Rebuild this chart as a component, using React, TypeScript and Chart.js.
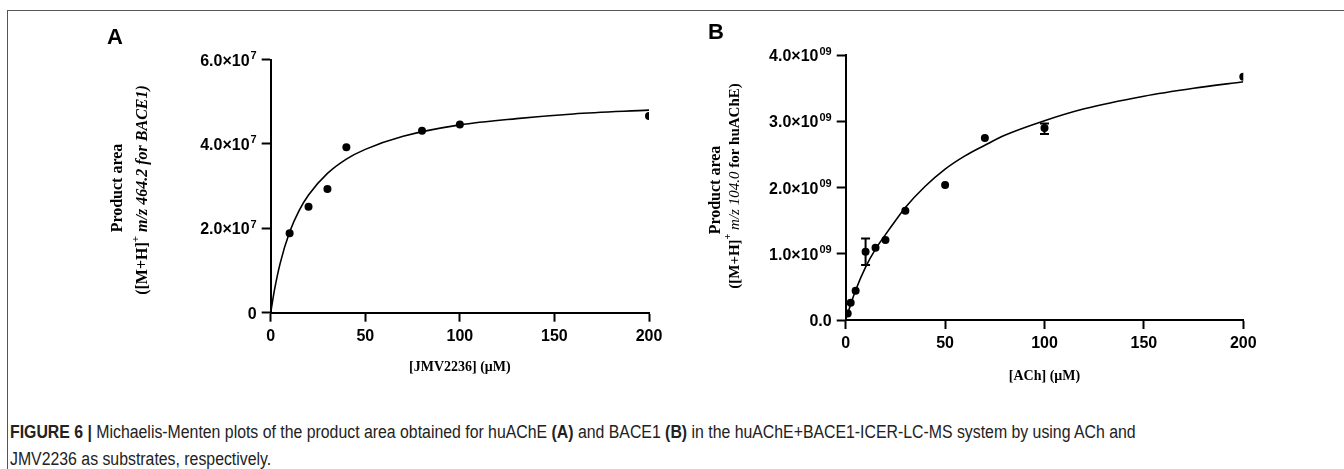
import React, { useEffect, useRef } from "react";
import { Chart, registerables } from "chart.js";

Chart.register(...registerables);

// ---------- Panel A : BACE1 / JMV2236 ----------
const jmvConc = [10, 20, 30, 40, 80, 100, 200];
const jmvArea = [1.88e7, 2.51e7, 2.93e7, 3.92e7, 4.31e7, 4.46e7, 4.66e7];
const fitAX = [0, 2, 5, 10, 15, 20, 30, 40, 50, 70, 100, 130, 160, 200];
const fitAY = [0, 0.54e7, 1.17e7, 1.91e7, 2.42e7, 2.79e7, 3.3e7, 3.64e7, 3.87e7, 4.18e7, 4.45e7, 4.6e7, 4.71e7, 4.8e7];
const yTicksA = [0, 2e7, 4e7, 6e7];
const yTickBaseA = ["0", "2.0×10", "4.0×10", "6.0×10"];
const yTickExpA = ["", "7", "7", "7"];

// ---------- Panel B : huAChE / ACh ----------
const achConc = [1, 2.5, 5, 10, 15, 20, 30, 50, 70, 100, 200];
const achArea = [0.1e9, 0.26e9, 0.44e9, 1.03e9, 1.09e9, 1.21e9, 1.65e9, 2.04e9, 2.75e9, 2.9e9, 3.675e9];
const achErrLow = [null, null, null, 0.83e9, null, null, null, null, null, 2.81e9, null];
const achErrHigh = [null, null, null, 1.23e9, null, null, null, null, null, 2.97e9, null];
const fitBX = [0, 5, 10, 15, 20, 25, 30, 40, 50, 60, 70, 80, 100, 120, 150, 175, 200];
const fitBY = [
  0.01e9, 0.45e9, 0.8e9, 1.07e9, 1.29e9, 1.5e9, 1.7e9, 2.02e9, 2.28e9, 2.48e9, 2.64e9, 2.79e9, 3.01e9, 3.19e9,
  3.38e9, 3.5e9, 3.6e9,
];
const yTicksB = [0, 1e9, 2e9, 3e9, 4e9];
const yTickBaseB = ["0.0", "1.0×10", "2.0×10", "3.0×10", "4.0×10"];
const yTickExpB = ["", "09", "09", "09", "09"];

const xTicks = [0, 50, 100, 150, 200];

const SANS = '"Liberation Sans", Arial, Helvetica, sans-serif';
const SERIF = '"Liberation Serif", "Times New Roman", Times, serif';

type Seg = { t: string; font: string; sup?: boolean };

const overlayPlugin = {
  id: "overlay",
  afterDatasetsDraw(chart: any, _args: any, opts: any) {
    const { ctx } = chart;
    const xs = chart.scales.x;
    const ys = chart.scales.y;
    if (opts.err) {
      ctx.save();
      ctx.strokeStyle = "#000";
      ctx.lineWidth = 2;
      opts.err.xs.forEach((xv: number, i: number) => {
        const lo = opts.err.lo[i];
        const hi = opts.err.hi[i];
        if (lo == null || hi == null) return;
        const px = xs.getPixelForValue(xv);
        const pl = ys.getPixelForValue(lo);
        const ph = ys.getPixelForValue(hi);
        ctx.beginPath();
        ctx.moveTo(px, pl);
        ctx.lineTo(px, ph);
        ctx.moveTo(px - 4.5, pl);
        ctx.lineTo(px + 4.5, pl);
        ctx.moveTo(px - 4.5, ph);
        ctx.lineTo(px + 4.5, ph);
        ctx.stroke();
      });
      ctx.restore();
    }
  },
  afterDraw(chart: any, _args: any, opts: any) {
    const { ctx, chartArea } = chart;
    const ys = chart.scales.y;
    ctx.save();
    ctx.fillStyle = "#000";
    // y tick labels with superscript exponent
    if (opts.yLabels) {
      const right = chartArea.left - 9 - 5;
      ctx.textBaseline = "alphabetic";
      ctx.textAlign = "left";
      opts.yLabels.values.forEach((v: number, i: number) => {
        const py = ys.getPixelForValue(v);
        const base = opts.yLabels.base[i];
        const exp = opts.yLabels.exp[i];
        ctx.font = `bold 11px ${SANS}`;
        const we = exp ? ctx.measureText(exp).width + 1 : 0;
        ctx.font = `bold 16px ${SANS}`;
        const wb = ctx.measureText(base).width;
        const baseline = py + 6;
        ctx.fillText(base, right - we - wb, baseline);
        if (exp) {
          ctx.font = `bold 11px ${SANS}`;
          ctx.fillText(exp, right - we + 1, baseline - 6.5);
        }
      });
    }
    // panel letter
    if (opts.letter) {
      ctx.font = `bold 22px ${SANS}`;
      ctx.textAlign = "center";
      ctx.textBaseline = "middle";
      ctx.fillText(opts.letter.text, opts.letter.x, opts.letter.y);
    }
    // x title
    if (opts.xTitle) {
      ctx.font = opts.xTitle.font;
      ctx.textAlign = "center";
      ctx.textBaseline = "middle";
      ctx.fillText(opts.xTitle.text, (chartArea.left + chartArea.right) / 2, opts.xTitle.y);
    }
    // rotated y titles
    (opts.yLines || []).forEach((line: any) => {
      ctx.save();
      ctx.translate(line.cx, line.cy);
      ctx.rotate(-Math.PI / 2);
      ctx.textAlign = "left";
      ctx.textBaseline = "middle";
      let total = 0;
      const widths = line.segs.map((s: Seg) => {
        ctx.font = s.font;
        const w = ctx.measureText(s.t).width;
        total += w;
        return w;
      });
      let x = -total / 2;
      line.segs.forEach((s: Seg, i: number) => {
        ctx.font = s.font;
        ctx.fillText(s.t, x, s.sup ? -7 : 0);
        x += widths[i];
      });
      ctx.restore();
    });
    ctx.restore();
  },
};

function makeConfig(p: any) {
  const tickFont = { family: SANS, size: 16, weight: "bold" as const };
  return {
    type: "scatter" as const,
    data: {
      datasets: [
        {
          data: p.fitX.map((x: number, i: number) => ({ x, y: p.fitY[i] })),
          showLine: true,
          borderColor: "#000",
          borderWidth: 1.6,
          pointRadius: 0,
          cubicInterpolationMode: "monotone" as const,
          fill: false,
          order: 2,
        },
        {
          data: p.xs.map((x: number, i: number) => ({ x, y: p.ys[i] })),
          showLine: false,
          pointRadius: 4,
          pointBackgroundColor: "#000",
          pointBorderColor: "#000",
          pointBorderWidth: 0,
          order: 1,
        },
      ],
    },
    options: {
      animation: false as const,
      responsive: false,
      events: [],
      layout: { padding: { top: p.padTop, right: p.padRight, left: 0, bottom: 0 } },
      plugins: {
        legend: { display: false },
        tooltip: { enabled: false },
        overlay: p.overlay,
      },
      scales: {
        x: {
          type: "linear" as const,
          min: 0,
          max: 200,
          afterBuildTicks: (s: any) => {
            s.ticks = xTicks.map((v) => ({ value: v }));
          },
          afterFit: (s: any) => {
            s.height = p.xHeight;
          },
          grid: {
            display: true,
            drawOnChartArea: false,
            drawTicks: true,
            tickLength: 9,
            tickWidth: 2,
            tickColor: "#000",
          },
          border: { display: true, color: "#000", width: 2 },
          ticks: {
            font: tickFont,
            color: "#000",
            padding: 5,
            maxRotation: 0,
            autoSkip: false,
            callback: (v: any) => String(v),
          },
        },
        y: {
          type: "linear" as const,
          min: 0,
          max: p.yMax,
          afterBuildTicks: (s: any) => {
            s.ticks = p.overlay.yLabels.values.map((v: number) => ({ value: v }));
          },
          afterFit: (s: any) => {
            s.width = p.yWidth;
          },
          grid: {
            display: true,
            drawOnChartArea: false,
            drawTicks: true,
            tickLength: 9,
            tickWidth: 2,
            tickColor: "#000",
          },
          border: { display: true, color: "#000", width: 2 },
          ticks: { display: false },
        },
      },
    },
    plugins: [overlayPlugin],
  };
}

function Panel(props: { cfg: any; left: number; width: number; height: number }) {
  const ref = useRef<HTMLCanvasElement | null>(null);
  useEffect(() => {
    if (!ref.current) return;
    const chart = new Chart(ref.current, props.cfg);
    return () => chart.destroy();
  }, []);
  return (
    <canvas
      ref={ref}
      width={props.width}
      height={props.height}
      style={{ position: "absolute", left: props.left, top: 0, width: props.width, height: props.height }}
    />
  );
}

const cfgA = makeConfig({
  fitX: fitAX,
  fitY: fitAY,
  xs: jmvConc,
  ys: jmvArea,
  yMax: 6e7,
  padTop: 59.5,
  padRight: 31,
  yWidth: 270.7,
  xHeight: 87.3,
  overlay: {
    yLabels: { values: yTicksA, base: yTickBaseA, exp: yTickExpA },
    letter: { text: "A", x: 115, y: 38 },
    xTitle: { text: "[JMV2236] (μM)", y: 367, font: `bold 14px ${SERIF}` },
    yLines: [
      { cx: 118, cy: 188, segs: [{ t: "Product area", font: `bold 16px ${SERIF}` }] },
      {
        cx: 143,
        cy: 190,
        segs: [
          { t: "([M+H]", font: `bold 16px ${SERIF}` },
          { t: "+", font: `bold 11px ${SERIF}`, sup: true },
          { t: " m/z 464.2 for BACE1)", font: `italic bold 16px ${SERIF}` },
        ],
      },
    ],
  },
});

const cfgB = makeConfig({
  fitX: fitBX,
  fitY: fitBY,
  xs: achConc,
  ys: achArea,
  yMax: 4e9,
  padTop: 55.2,
  padRight: 100.7,
  yWidth: 165.7,
  xHeight: 80,
  overlay: {
    yLabels: { values: yTicksB, base: yTickBaseB, exp: yTickExpB },
    letter: { text: "B", x: 36, y: 33 },
    xTitle: { text: "[ACh] (μM)", y: 376, font: `bold 14px ${SERIF}` },
    err: { xs: achConc, lo: achErrLow, hi: achErrHigh },
    yLines: [
      { cx: 36, cy: 190, segs: [{ t: "Product area", font: `bold 16px ${SERIF}` }] },
      {
        cx: 55,
        cy: 186,
        segs: [
          { t: "([M+H]", font: `bold 15px ${SERIF}` },
          { t: "+", font: `bold 10px ${SERIF}`, sup: true },
          { t: " m/z 104.0", font: `italic 15px ${SERIF}` },
          { t: " for huAChE)", font: `bold 15px ${SERIF}` },
        ],
      },
    ],
  },
});

export default function App() {
  const capStyle: React.CSSProperties = {
    position: "absolute",
    left: 10,
    fontFamily: SANS,
    fontSize: 18,
    color: "#222",
    whiteSpace: "nowrap",
    transform: "scaleX(0.88)",
    transformOrigin: "left center",
    lineHeight: "20px",
  };
  return (
    <div style={{ position: "absolute", left: 0, top: 0, width: 1344, height: 469, background: "#fff", overflow: "hidden" }}>
      <div
        style={{
          position: "absolute",
          left: 7,
          top: 10,
          width: 1400,
          height: 500,
          borderTop: "1px solid #555",
          borderLeft: "1px solid #555",
        }}
      />
      <Panel cfg={cfgA} left={0} width={680} height={400} />
      <Panel cfg={cfgB} left={680} width={664} height={400} />
      <div style={{ ...capStyle, top: 422 }}>
        <b>FIGURE 6 | </b>Michaelis-Menten plots of the product area obtained for huAChE <b>(A)</b> and BACE1 <b>(B)</b> in
        the huAChE+BACE1-ICER-LC-MS system by using ACh and
      </div>
      <div style={{ ...capStyle, top: 449 }}>JMV2236 as substrates, respectively.</div>
    </div>
  );
}
